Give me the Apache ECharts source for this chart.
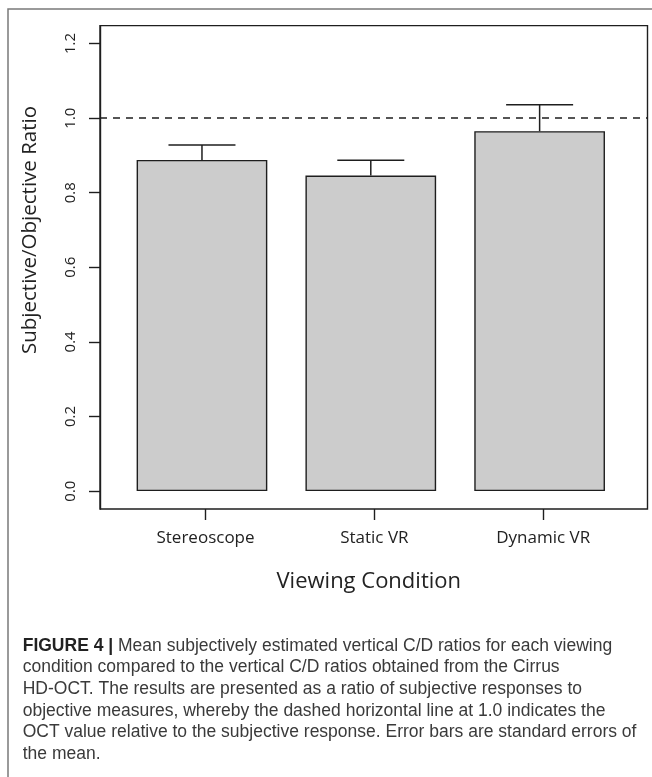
<!DOCTYPE html>
<html>
<head>
<meta charset="utf-8">
<script src="https://cdn.jsdelivr.net/npm/echarts@6/dist/echarts.min.js"></script>
<style>
html,body{margin:0;padding:0;background:#fff;}
#chart{width:652px;height:777px;}
</style>
</head>
<body>
<div id="chart"></div>
<script>
// ---- data ----
var categories = ['Stereoscope', 'Static VR', 'Dynamic VR'];
var positions = [1, 2, 3];
var meanRatio = [0.888, 0.846, 0.965];
var upperError = [0.928, 0.887, 1.036];
var yTicks = [0, 0.2, 0.4, 0.6, 0.8, 1.0, 1.2];
var referenceValue = 1.0;
var xTitle = 'Viewing Condition';
var yTitle = 'Subjective/Objective Ratio';
var captionBold = 'FIGURE 4 |';
var captionLines = [
  ' Mean subjectively estimated vertical C/D ratios for each viewing',
  'condition compared to the vertical C/D ratios obtained from the Cirrus',
  'HD-OCT. The results are presented as a ratio of subjective responses to',
  'objective measures, whereby the dashed horizontal line at 1.0 indicates the',
  'OCT value relative to the subjective response. Error bars are standard errors of',
  'the mean.'
];

// axis extents (R style padded ranges)
var xMin = 0.396, xMax = 3.639;
var yMin = -0.048, yMax = 1.248;
var tickShift = 0.021;
var xTickValues = positions.map(function (p) { return p + tickShift; });

var barData = positions.map(function (p, i) { return [p, meanRatio[i]]; });
var errData = positions.map(function (p, i) { return [p, meanRatio[i], upperError[i]]; });

var dark = '#1e1e1e';
var chart = echarts.init(document.getElementById('chart'), null, {renderer: 'canvas'});

var option = {
  backgroundColor: '#ffffff',
  animation: false,
  grid: {
    left: 100, right: 4.5, top: 25.6, bottom: 268,
    show: true, borderColor: dark, borderWidth: 1.4, backgroundColor: 'transparent',
    containLabel: false
  },
  xAxis: {
    type: 'value', min: xMin, max: xMax,
    splitLine: {show: false},
    axisLine: {show: false, onZero: false},
    axisTick: {show: true, length: 11, customValues: xTickValues, lineStyle: {color: dark, width: 1.4}},
    axisLabel: {
      customValues: xTickValues, margin: 21,
      fontFamily: 'Open Sans', fontSize: 17, color: '#222',
      formatter: function (v, idx) {
        var k = xTickValues.indexOf(v);
        return categories[k >= 0 ? k : idx];
      }
    },
    name: xTitle, nameLocation: 'middle', nameGap: 62,
    nameTextStyle: {fontFamily: 'Open Sans', fontSize: 22, color: '#222', padding: [0, 10, 0, 0]}
  },
  yAxis: {
    type: 'value', min: yMin, max: yMax,
    splitLine: {show: false},
    axisLine: {show: true, onZero: false, lineStyle: {color: dark, width: 1.4}},
    axisTick: {show: true, length: 11, customValues: yTicks, lineStyle: {color: dark, width: 1.4}},
    axisLabel: {
      customValues: yTicks, rotate: 90, margin: 22,
      fontFamily: 'Open Sans', fontSize: 15, color: '#222',
      formatter: function (v) { return v.toFixed(1); }
    }
  },
  series: [
    {
      type: 'bar',
      data: barData,
      barWidth: 130.7,
      itemStyle: {color: '#cccccc', borderColor: dark, borderWidth: 1.4},
      silent: true,
      markLine: {
        silent: true, symbol: ['none', 'none'], label: {show: false},
        lineStyle: {color: dark, width: 1.5, type: [7, 6]},
        data: [{yAxis: referenceValue}]
      },
      z: 2
    },
    {
      type: 'custom',
      data: errData,
      z: 5,
      silent: true,
      renderItem: function (params, api) {
        var x = api.value(0);
        var lo = api.coord([x, api.value(1)]);
        var hi = api.coord([x, api.value(2)]);
        var half = 33.5;
        var st = {stroke: dark, lineWidth: 1.5};
        return {
          type: 'group',
          children: [
            {type: 'line', shape: {x1: lo[0], y1: lo[1], x2: hi[0], y2: hi[1]}, style: st},
            {type: 'line', shape: {x1: hi[0] - half, y1: hi[1], x2: hi[0] + half, y2: hi[1]}, style: st}
          ]
        };
      }
    }
  ],
  graphic: [
    {
      type: 'rect', silent: true, z: -1,
      shape: {x: 8, y: 9, width: 700, height: 800},
      style: {fill: 'none', stroke: '#7a7a7a', lineWidth: 1.5}
    },
    {
      type: 'text', silent: true,
      x: 30, y: 230, rotation: Math.PI / 2,
      style: {
        text: yTitle, fontFamily: 'Open Sans', fontSize: 20.5, fill: '#222',
        textAlign: 'center', textVerticalAlign: 'middle'
      }
    },
    {
      type: 'text', silent: true,
      x: 22.7, y: 635,
      style: {
        text: '{b|' + captionBold + '}' + captionLines.join('\n'),
        fontFamily: 'Liberation Sans', fontSize: 17.5, fill: '#3a3a3a',
        lineHeight: 21.7, textAlign: 'left', textVerticalAlign: 'top',
        rich: {
          b: {fontFamily: 'Liberation Sans', fontWeight: 'bold', fontSize: 17.5, fill: '#222', lineHeight: 21.7}
        }
      }
    }
  ]
};
chart.setOption(option);
</script>
</body>
</html>
